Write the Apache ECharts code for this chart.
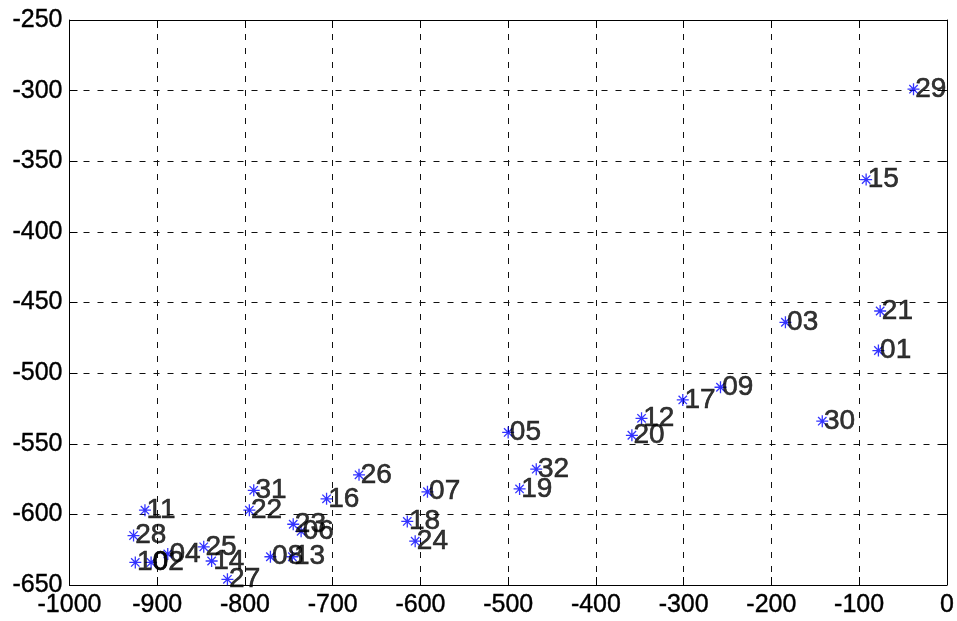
<!DOCTYPE html>
<html><head><meta charset="utf-8">
<script src="https://cdn.jsdelivr.net/npm/echarts@6/dist/echarts.min.js"></script>
<style>html,body{margin:0;padding:0;background:#fff}#c{width:957px;height:621px}</style>
</head><body><div id="c"></div>
<script>
const pointNames = ['01','02','03','04','05','06','07','08','09','10','11','12','13','14','15','16',
                    '17','18','19','20','21','22','23','24','25','26','27','28','29','30','31','32'];
const xValues = [-78,-907,-184,-888,-500,-736,-592,-771,-258,-925,-914,-348,-746,-838,-92,-707,
                 -301,-615,-487,-359,-76,-795,-745,-606,-847,-670,-820,-927,-38,-142,-790,-468];
const yValues = [-484,-634,-464,-628,-542,-612,-584,-630,-510,-634,-597,-532,-630,-633,-363,-589,
                 -519,-605,-582,-544,-456,-597,-607,-619,-623,-572,-646,-615,-299,-534,-583,-568];
const xMin = -1000, xMax = 0, xStep = 100;
const yMin = -650, yMax = -250, yStep = 50;

const FONT = 'Liberation Sans';
const points = pointNames.map((n, i) => ({ name: n, value: [xValues[i], yValues[i]] }));
const star = 'path://M0,5 L10,5 M5,0 L5,10 M1.5,1.5 L8.5,8.5 M8.5,1.5 L1.5,8.5';

function xAx(pos, main) {
  return {
    type: 'value', min: xMin, max: xMax, interval: xStep, position: pos,
    axisLine: { show: true, onZero: false, lineStyle: { color: '#000', width: 1 } },
    axisTick: { show: true, inside: true, length: 8, lineStyle: { color: '#000' } },
    axisLabel: { show: main, color: '#000', fontSize: 25, fontFamily: FONT, margin: 8,
                 textBorderColor: '#000', textBorderWidth: 0.4,
                 formatter: v => String(v) },
    splitLine: { show: main, lineStyle: { color: '#111', width: 1, type: [6, 8] } }
  };
}
function yAx(pos, main) {
  return {
    type: 'value', min: yMin, max: yMax, interval: yStep, position: pos,
    axisLine: { show: true, onZero: false, lineStyle: { color: '#000', width: 1 } },
    axisTick: { show: true, inside: true, length: 8, lineStyle: { color: '#000' } },
    axisLabel: { show: main, color: '#000', fontSize: 25, fontFamily: FONT, margin: 7,
                 textBorderColor: '#000', textBorderWidth: 0.4,
                 formatter: v => String(v) },
    splitLine: { show: main, lineStyle: { color: '#111', width: 1, type: [6, 8] } }
  };
}

const chart = echarts.init(document.getElementById('c'), null, { renderer: 'canvas' });
chart.setOption({
  animation: false,
  backgroundColor: '#fff',
  grid: { left: 69.5, right: 7, top: 20, bottom: 36, containLabel: false },
  xAxis: [xAx('bottom', true), xAx('top', false)],
  yAxis: [yAx('left', true), yAx('right', false)],
  series: [{
    type: 'scatter',
    xAxisIndex: 0, yAxisIndex: 0,
    data: points,
    symbol: star,
    symbolSize: 12,
    itemStyle: { color: 'rgba(0,0,0,0)', borderColor: '#0000ff', borderWidth: 1.3 },
    label: {
      show: true, position: 'right', distance: -5,
      offset: [0, 2], formatter: p => p.name,
      color: '#000', fontSize: 28, fontFamily: FONT,
      textBorderColor: '#000', textBorderWidth: 0.6
    },
    labelLayout: { hideOverlap: false },
    emphasis: { disabled: true }
  }]
});
</script>
</body></html>
